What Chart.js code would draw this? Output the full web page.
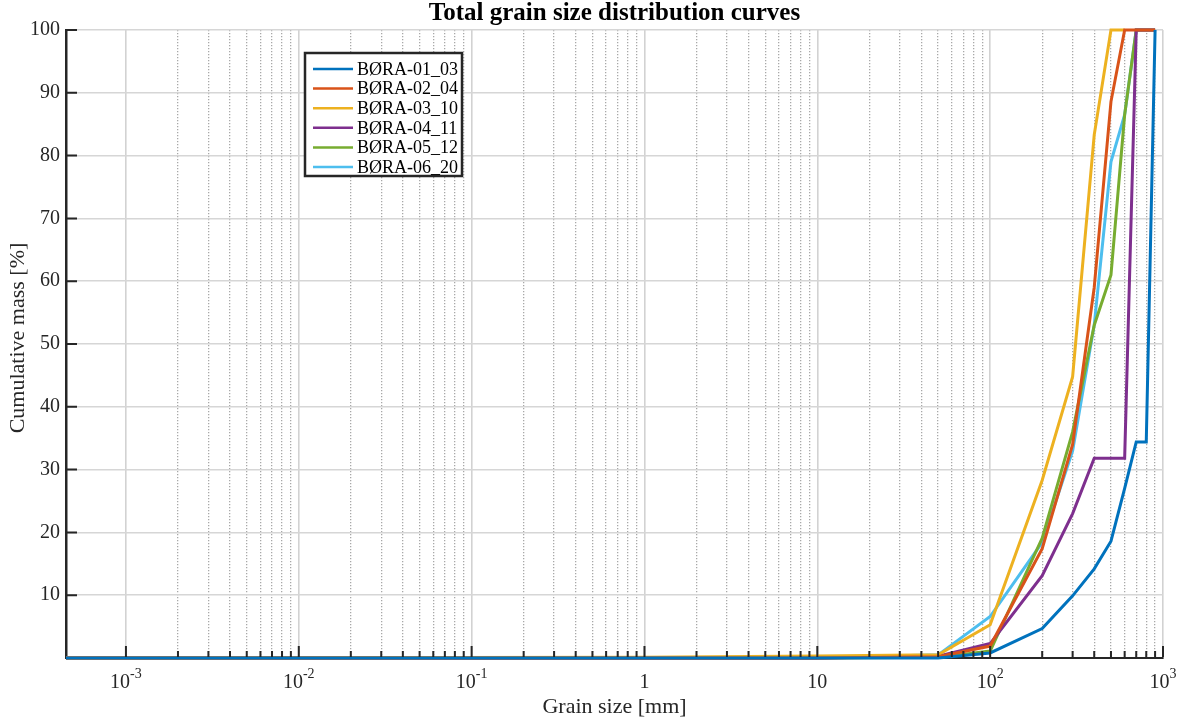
<!DOCTYPE html>
<html>
<head>
<meta charset="utf-8">
<script src="https://cdn.jsdelivr.net/npm/chart.js@4.4.1/dist/chart.umd.min.js"></script>
<style>
  html, body { margin: 0; padding: 0; background: #fff; }
  #wrap { width: 1180px; height: 722px; }
</style>
</head>
<body>
<div id="wrap"><canvas id="grain"></canvas></div>
<script>
// sieve sizes [mm] shared by all samples
const sizes = [0.00045, 1, 10, 50, 100, 200, 300, 400, 500, 600, 700, 800, 900];

// cumulative mass [%] per sample (null = no reading)
const bora01 = [0, 0, 0, 0, 0.8, 4.7, 9.9, 14.2, 18.6, 27, 34.4, 34.4, 100];
const bora02 = [0, 0, 0, 0.2, 1.9, 17.4, 34, 59, 88.6, 100, 100, 100, 100];
const bora03 = [0, 0.1, 0.3, 0.5, 5.3, 28.3, 44.8, 83.3, 100, 100, null, null, null];
const bora04 = [0, 0, 0, 0.3, 2.3, 13.1, 23, 31.8, 31.8, 31.8, 100, 100, 100];
const bora05 = [0, 0, 0, 0.1, 1.1, 19.1, 36, 53, 61, 86.5, 100, 100, 100];
const bora06 = [0, 0, 0, 0.5, 6.6, 18.4, 33, 53, 79, 86.5, 100, 100, 100];

const sampleNames = ['BØRA-01_03', 'BØRA-02_04', 'BØRA-03_10', 'BØRA-04_11', 'BØRA-05_12', 'BØRA-06_20'];
const sampleColors = ['#0072BD', '#D95319', '#EDB120', '#7E2F8E', '#77AC30', '#4DBEEE'];
const series = [bora01, bora02, bora03, bora04, bora05, bora06];

// x axis decade labels
const xTickValues = [0.001, 0.01, 0.1, 1, 10, 100, 1000];
const xTickBase = ['10', '10', '10', '1', '10', '10', '10'];
const xTickExp = ['-3', '-2', '-1', '', '', '2', '3'];

const serif = '"Liberation Serif", "Times New Roman", serif';
const textColor = '#262626';

// all log ticks 1e-3 .. 1e3 (decades + 2..9 minors)
const gridTicks = [];
for (let e = -3; e < 3; e++) {
  for (let m = 1; m < 10; m++) gridTicks.push({ value: m * Math.pow(10, e), major: m === 1 });
}
gridTicks.push({ value: 1000, major: true });

const matlabDecor = {
  id: 'matlabDecor',
  afterDraw(chart) {
    const { ctx, chartArea: area, scales: { x, y } } = chart;
    ctx.save();

    // inward tick marks
    ctx.strokeStyle = textColor;
    ctx.lineWidth = 2;
    ctx.beginPath();
    for (let v = 10; v <= 100; v += 10) {
      const py = y.getPixelForValue(v);
      ctx.moveTo(area.left, py);
      ctx.lineTo(area.left + 11, py);
    }
    gridTicks.forEach(t => {
      const px = x.getPixelForValue(t.value);
      ctx.moveTo(px, area.bottom - 1);
      ctx.lineTo(px, area.bottom - (t.major ? 12 : 7));
    });
    ctx.stroke();

    // x decade labels with superscripts
    ctx.fillStyle = textColor;
    ctx.textBaseline = 'alphabetic';
    ctx.textAlign = 'left';
    const baseFont = '20px ' + serif;
    const supFont = '14px ' + serif;
    xTickValues.forEach((v, i) => {
      ctx.font = baseFont;
      const wb = ctx.measureText(xTickBase[i]).width;
      ctx.font = supFont;
      const we = xTickExp[i] ? ctx.measureText(xTickExp[i]).width : 0;
      const px = x.getPixelForValue(v);
      const left = px - (wb + we) / 2;
      ctx.font = baseFont;
      ctx.fillText(xTickBase[i], left, 688);
      if (xTickExp[i]) {
        ctx.font = supFont;
        ctx.fillText(xTickExp[i], left + wb, 678);
      }
    });

    const cx = (area.left + area.right) / 2;
    // title
    ctx.textAlign = 'center';
    ctx.textBaseline = 'middle';
    ctx.font = 'bold 25px ' + serif;
    ctx.fillStyle = '#000';
    ctx.fillText('Total grain size distribution curves', cx, 14);

    // axis titles
    ctx.fillStyle = textColor;
    ctx.font = '22px ' + serif;
    ctx.fillText('Grain size [mm]', cx, 707);
    ctx.save();
    ctx.translate(18, 338);
    ctx.rotate(-Math.PI / 2);
    ctx.fillText('Cumulative mass [%]', 0, 0);
    ctx.restore();

    // legend box
    const lx = 305, ly = 53, lw = 157, lh = 123;
    ctx.fillStyle = '#fff';
    ctx.fillRect(lx, ly, lw, lh);
    ctx.strokeStyle = '#262626';
    ctx.lineWidth = 2.5;
    ctx.strokeRect(lx, ly, lw, lh);
    ctx.font = '18px ' + serif;
    ctx.textAlign = 'left';
    sampleNames.forEach((name, i) => {
      const ry = ly + 16 + i * 19.6;
      ctx.strokeStyle = sampleColors[i];
      ctx.lineWidth = 2.5;
      ctx.beginPath();
      ctx.moveTo(lx + 8, ry);
      ctx.lineTo(lx + 48, ry);
      ctx.stroke();
      ctx.fillStyle = '#000';
      ctx.fillText(name, lx + 52, ry + 1);
    });
    ctx.restore();
  }
};

new Chart(document.getElementById('grain'), {
  type: 'line',
  data: {
    datasets: series.map((ys, i) => ({
      label: sampleNames[i],
      data: sizes.map((s, j) => ({ x: s, y: ys[j] })),
      borderColor: sampleColors[i],
      backgroundColor: sampleColors[i],
      borderWidth: 3,
      pointRadius: 0,
      tension: 0,
      fill: false,
      spanGaps: false,
      clip: 4
    }))
  },
  options: {
    responsive: true,
    maintainAspectRatio: false,
    animation: false,
    layout: { padding: { top: 30, right: 17, left: 0, bottom: 0 } },
    plugins: {
      legend: { display: false },
      tooltip: { enabled: false },
      title: { display: false }
    },
    scales: {
      x: {
        type: 'logarithmic',
        min: 4.5e-4,
        max: 1000,
        afterBuildTicks: scale => { scale.ticks = gridTicks.map(t => ({ value: t.value, major: t.major })); },
        afterFit: scale => { scale.height = 64; },
        ticks: { display: false },
        grid: {
          drawTicks: false,
          color: c => (c.tick && c.tick.major) ? '#d2d2d2' : '#a8a8a8',
          lineWidth: c => (c.tick && c.tick.major) ? 1.6 : 1.3
        },
        border: {
          color: textColor,
          width: 2,
          dash: c => (c.type === 'tick' && c.tick && !c.tick.major) ? [1.3, 1.7] : []
        }
      },
      y: {
        min: 0,
        max: 100,
        afterFit: scale => { scale.width = 66; },
        ticks: {
          stepSize: 10,
          padding: 6,
          color: textColor,
          font: { family: serif, size: 20 },
          callback: v => v === 0 ? '' : v
        },
        grid: { drawTicks: false, color: '#d6d6d6', lineWidth: 1.6 },
        border: { color: textColor, width: 2.5 }
      }
    }
  },
  plugins: [matlabDecor]
});
</script>
</body>
</html>
